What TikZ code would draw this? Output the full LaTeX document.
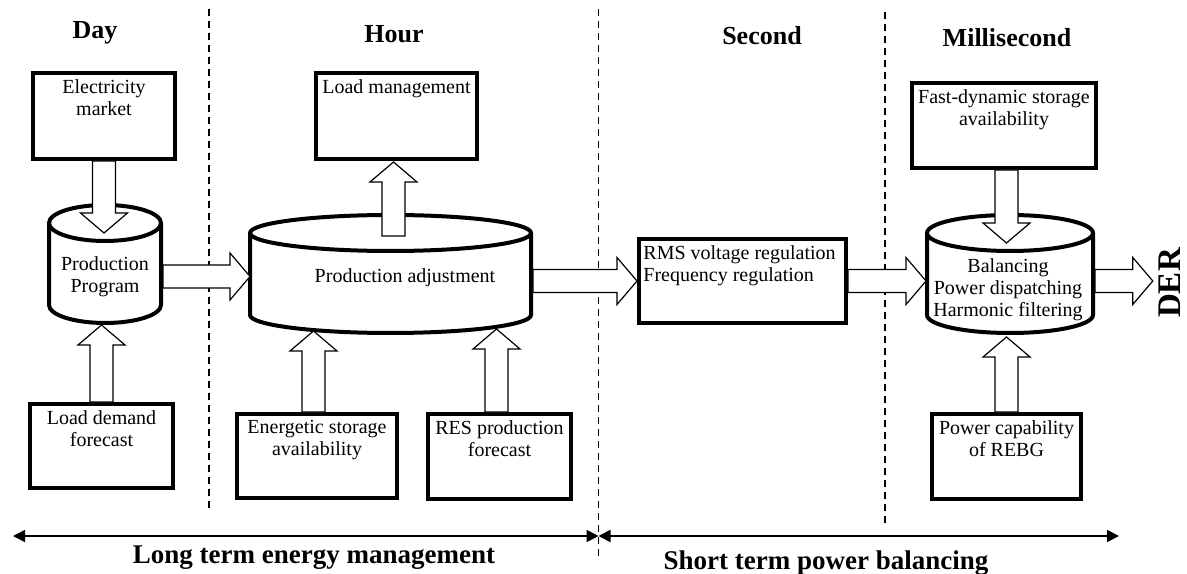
\documentclass[tikz,border=0pt]{standalone}
\usepackage{fontspec}
\setmainfont{Liberation Serif}
\usetikzlibrary{arrows.meta,calc}
\newcommand{\boxfont}{\fontsize{10pt}{11pt}\selectfont}
\newcommand{\periodfont}{\fontsize{13pt}{15pt}\selectfont\bfseries}
\newcommand{\spanfont}{\fontsize{13.5pt}{16pt}\selectfont\bfseries}
\newcommand{\derfont}{\fontsize{16.5pt}{20pt}\selectfont\bfseries}
\tikzset{
  % thick framed box, text sits at its top
  panel/.style    = {draw, line width=2pt, inner sep=0pt, outer sep=0pt},
  drum/.style     = {inner sep=0pt, outer sep=0pt, minimum height=59pt},
  drumline/.style = {line width=2pt},
  toplbl/.style   = {font=\boxfont, align=center, anchor=north, inner sep=3pt},
  midlbl/.style   = {font=\boxfont, align=center, anchor=center, inner sep=0pt},
  blockarrow/.style = {draw, fill=white, line width=0.6pt, line join=miter},
  divider/.style  = {dash pattern=on 3.5pt off 2.5pt, line width=0.65pt},
  spanarrow/.style = {{Triangle[length=6pt,width=6pt]}-{Triangle[length=6pt,width=6pt]}, line width=0.9pt},
  period/.style   = {font=\periodfont, anchor=base, inner sep=0pt},
}
% hollow block arrow from #1 to #2
\newcommand{\bigarrow}[2]{%
  \draw[blockarrow] let \p1=(#1), \p2=(#2),
      \n1={atan2(\y2-\y1,\x2-\x1)}, \n2={veclen(\x2-\x1,\y2-\y1)} in
    {[shift={(\p1)}, rotate=\n1]
    (0pt,-5.75pt) -- (\n2*1pt-10pt,-5.75pt) -- (\n2*1pt-10pt,-11.75pt) -- (\n2*1pt,0pt)
    -- (\n2*1pt-10pt,11.75pt) -- (\n2*1pt-10pt,5.75pt) -- (0pt,5.75pt) -- cycle};}
% cylinder outline round node #1, end radius #2
\newcommand{\drum}[2]{%
  \draw[drumline] let \p1=(#1.north west), \p2=(#1.south east),
      \n1={(\x2-\x1)/2}, \n2={#2} in
    (\x1,\y1-\n2*1pt) -- (\x1,\y2+\n2*1pt)
    arc[start angle=180, end angle=360, x radius=\n1*1pt, y radius=\n2*1pt]
    -- (\x2,\y1-\n2*1pt)
    (\x1+\n1*1pt,\y1-\n2*1pt) ellipse[x radius=\n1*1pt, y radius=\n2*1pt];}

\begin{document}
\begin{tikzpicture}[x=0.5pt,y=0.5pt]
\useasboundingbox (0,0) rectangle (1187,573);
% --- time scales --------------------------------------------------------
\node[period] (day)  at (95,534)    {Day};
\node[period] (hour) at (394,530.5) {Hour};
\node[period] (sec)  at (762,528)   {Second};
\node[period] (msec) at (1007,526)  {Millisecond};
\draw[divider] (209,564) -- (209,63);
\draw[divider] (598.5,564) -- (598.5,15);
\draw[divider] (885,561) -- (885,46);
% --- processes ------------------------------------------------------------
\node[drum, minimum width=56pt, label={[midlbl, yshift=-6.5pt]center:{Production\\Program}}] (pp) at (105,309) {};
\node[drum, minimum width=140.5pt, label={[midlbl, xshift=7.25pt, yshift=-2pt]center:{Production adjustment}}] (pa) at (390.5,299) {};
\node[drum, minimum width=83pt, label={[midlbl, xshift=-1pt, yshift=-8pt]center:{Balancing\\Power dispatching\\Harmonic filtering}}] (bal) at (1010,299) {};
\drum{pp}{9pt}
\drum{pa}{9pt}
\drum{bal}{9pt}
% --- inputs and outputs ---------------------------------------------------
\node[panel, minimum width=71pt, minimum height=43pt, label={[toplbl]north:{Electricity\\market}}] (elec) at (104,457) {};
\node[panel, minimum width=80.5pt, minimum height=43pt, label={[toplbl]north:{Load management}}] (loadm) at (396.5,457) {};
\node[panel, minimum width=92pt, minimum height=42.5pt, label={[toplbl]north:{Fast-dynamic storage\\availability}}] (fast) at (1004,447.5) {};
\node[panel, minimum width=71.5pt, minimum height=42pt, label={[toplbl]north:{Load demand\\forecast}}] (ldf) at (101.5,127) {};
\node[panel, minimum width=80pt, minimum height=42pt, label={[toplbl]north:{Energetic storage\\availability}}] (ess) at (317,117) {};
\node[panel, minimum width=71.5pt, minimum height=42.5pt, label={[toplbl]north:{RES production\\forecast}}] (res) at (499.5,116.5) {};
\node[panel, minimum width=74.5pt, minimum height=42.5pt, label={[toplbl]north:{Power capability\\of REBG}}] (pcap) at (1006.5,116.5) {};
\node[panel, minimum width=103.5pt, minimum height=42pt, label={[toplbl, anchor=north west, align=left, inner xsep=2pt]north west:{RMS voltage regulation\\Frequency regulation}}] (rms) at (742.5,292) {};
\node[font=\derfont, rotate=90, inner sep=3pt] (der) at (1170,290) {DER};
% --- block arrows ---------------------------------------------------------
\bigarrow{$(elec.south)+(0,-2)$}{$(elec.south |- pp.north)+(0,-28)$}
\bigarrow{$(ldf.north)+(0,2)$}{$(ldf.north |- pp.south)+(0,-2)$}
\bigarrow{$(pp.east)+(2,-12.5)$}{$(pp.east -| pa.west)+(0,-12.5)$}
\bigarrow{$(pa.north)+(3,-21)$}{$(pa.north |- loadm.south)+(3,-3)$}
\bigarrow{$(ess.north)+(-3.5,2)$}{$(ess.north |- pa.south)+(-3.5,2)$}
\bigarrow{$(res.north)+(-3,2)$}{$(res.north |- pa.south)+(-3,4)$}
\bigarrow{$(pa.east)+(2,-7)$}{$(pa.east -| rms.west)+(-2,-7)$}
\bigarrow{$(rms.east)+(2,0)$}{$(rms.east -| bal.west)+(-1,0)$}
\bigarrow{$(fast.south)+(2.5,-2)$}{$(fast.south |- bal.north)+(2.5,-28)$}
\bigarrow{$(pcap.north)+(0,2)$}{$(pcap.north |- bal.south)+(0,-4)$}
\bigarrow{$(bal.east)+(2,-7)$}{$(bal.east -| der.north)+(0,-7)$}
% --- horizons -------------------------------------------------------------
\coordinate (lend)  at (13,37);
\coordinate (split) at (598.5,37);
\coordinate (rend)  at (1119,37);
\draw[spanarrow] (lend) -- (split);
\draw[spanarrow] (split) -- (rend);
\node[period, font=\spanfont] (longterm)  at (314,10) {Long term energy management};
\node[period, font=\spanfont] (shortterm) at (826,4)  {Short term power balancing};
\end{tikzpicture}
\end{document}
